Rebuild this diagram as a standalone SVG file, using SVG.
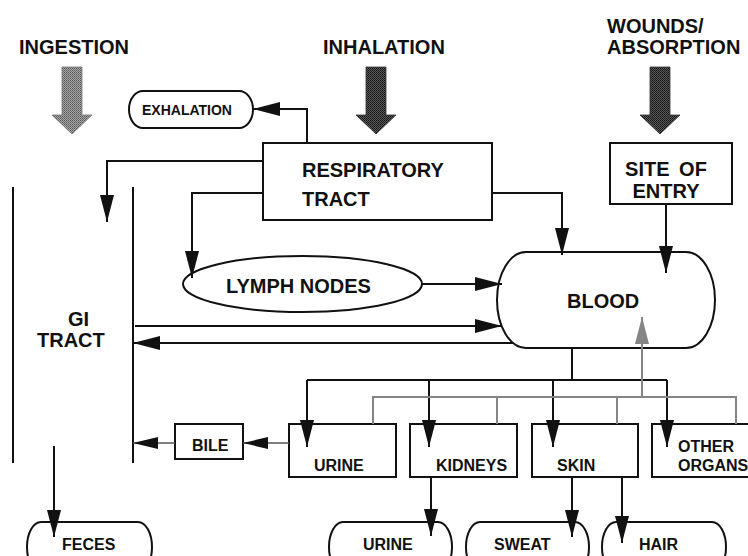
<svg xmlns="http://www.w3.org/2000/svg" width="748" height="556" viewBox="0 0 748 556">
<style>
text{font-family:"Liberation Sans",Arial,sans-serif;font-weight:bold;fill:#111}
.t20{font-size:20px}
.t16{font-size:16px}
.t14{font-size:14px}
.box{fill:#fff;stroke:#111;stroke-width:2}
.ln{fill:none;stroke:#111;stroke-width:2}
.gl{fill:none;stroke:#858585;stroke-width:2}
.th{fill:none;stroke:#555;stroke-width:1.3}
.c{text-anchor:middle}
</style>
<defs>
<marker id="ah" markerUnits="userSpaceOnUse" markerWidth="27" markerHeight="14" refX="27" refY="7" orient="auto"><path d="M0,0 L27,7 L0,14 z" fill="#111"/></marker>
<marker id="ahg" markerUnits="userSpaceOnUse" markerWidth="27" markerHeight="14" refX="27" refY="7" orient="auto"><path d="M0,0 L27,7 L0,14 z" fill="#858585"/></marker>
<marker id="ahs" markerUnits="userSpaceOnUse" markerWidth="25" markerHeight="12" refX="25" refY="6" orient="auto"><path d="M0,0 L25,6 L0,12 z" fill="#111"/></marker>
<pattern id="dlight" width="2" height="2" patternUnits="userSpaceOnUse"><rect width="2" height="2" fill="#a8a8a8"/><rect width="1" height="1" fill="#555"/><rect x="1" y="1" width="1" height="1" fill="#6e6e6e"/></pattern>
<pattern id="ddark" width="2" height="2" patternUnits="userSpaceOnUse"><rect width="2" height="2" fill="#5a5a5a"/><rect width="1" height="1" fill="#111"/><rect x="1" y="1" width="1" height="1" fill="#222"/></pattern>
</defs>

<g id="ingestion">
<text class="t20" x="19" y="54">INGESTION</text>
<polygon points="62,67 82,67 82,115 92,115 72,134 52,115 62,115" fill="url(#dlight)" stroke="#777" stroke-width="0.8"/>
</g>
<g id="inhalation">
<text class="t20" x="323" y="54">INHALATION</text>
<polygon points="366,67 386,67 386,115 396,115 376,134 356,115 366,115" fill="url(#ddark)" stroke="#333" stroke-width="0.8"/>
</g>
<g id="wounds">
<text class="t20" x="607" y="33">WOUNDS/</text>
<text class="t20" x="607" y="54">ABSORPTION</text>
<polygon points="650,67 670,67 670,115 680,115 660,134 640,115 650,115" fill="url(#ddark)" stroke="#333" stroke-width="0.8"/>
</g>

<g id="exhalation">
<path class="box" d="M143,91 H239 A14,18.5 0 0 1 239,128 H143 A14,18.5 0 0 1 143,91 Z"/>
<text class="t14" x="142" y="115">EXHALATION</text>
</g>
<g id="respiratory-tract">
<rect class="box" x="263" y="143" width="229" height="77"/>
<text class="t20" x="302" y="177">RESPIRATORY</text>
<text class="t20" x="302" y="206">TRACT</text>
</g>
<g id="site-of-entry">
<rect class="box" x="610" y="143" width="122" height="61"/>
<text class="t20 c" x="666" y="176" word-spacing="4">SITE OF</text>
<text class="t20 c" x="666" y="198">ENTRY</text>
</g>
<g id="gi-tract">
<path class="ln" d="M13,187 V463 M133,187 V463"/>
<text class="t20" x="68" y="326">GI</text>
<text class="t20" x="37" y="347">TRACT</text>
</g>
<g id="lymph-nodes">
<ellipse class="box" cx="302.5" cy="284" rx="119.5" ry="28"/>
<text class="t20" x="226" y="293">LYMPH NODES</text>
</g>
<g id="blood">
<path class="box" d="M526,252 H686 A29,48 0 0 1 686,348 H526 A29,48 0 0 1 526,252 Z"/>
<text class="t20" x="567" y="308">BLOOD</text>
</g>
<g id="bile">
<rect class="box" x="175" y="424" width="68" height="35"/>
<text class="t16" x="192" y="451">BILE</text>
</g>
<g id="urine-organ">
<rect class="box" x="289" y="424" width="107" height="53"/>
<text class="t16" x="314" y="471">URINE</text>
</g>
<g id="kidneys">
<rect class="box" x="410" y="424" width="107" height="53"/>
<text class="t16" x="436" y="471">KIDNEYS</text>
</g>
<g id="skin">
<rect class="box" x="532" y="424" width="106" height="53"/>
<text class="t16" x="557" y="471">SKIN</text>
</g>
<g id="other-organs">
<rect class="box" x="652" y="424" width="107" height="53"/>
<text class="t16" x="678" y="452">OTHER</text>
<text class="t16" x="678" y="471">ORGANS</text>
</g>
<g id="feces">
<path class="box" d="M41,522 H138 A14,25 0 0 1 138,572 H41 A14,25 0 0 1 41,522 Z"/>
<text class="t16" x="62" y="550">FECES</text>
</g>
<g id="urine-out">
<path class="box" d="M343,522 H438 A14,25 0 0 1 438,572 H343 A14,25 0 0 1 343,522 Z"/>
<text class="t16" x="363" y="550">URINE</text>
</g>
<g id="sweat">
<path class="box" d="M480,522 H575 A14,25 0 0 1 575,572 H480 A14,25 0 0 1 480,522 Z"/>
<text class="t16" x="494" y="550">SWEAT</text>
</g>
<g id="hair">
<path class="box" d="M616,522 H712 A14,25 0 0 1 712,572 H616 A14,25 0 0 1 616,522 Z"/>
<text class="t16" x="639" y="550">HAIR</text>
</g>

<g id="connectors">
<path class="ln" d="M307,143 V109 H253" marker-end="url(#ah)"/>
<path class="ln" d="M263,161 H107 V222" marker-end="url(#ah)"/>
<path class="ln" d="M263,193 H192 V278" marker-end="url(#ah)"/>
<path class="ln" d="M492,193 H562 V255" marker-end="url(#ah)"/>
<path class="ln" d="M666,204 V273" marker-end="url(#ah)"/>
<path class="ln" d="M422,284 H502" marker-end="url(#ah)"/>
<path class="ln" d="M135,326 H502" marker-end="url(#ah)"/>
<path class="ln" d="M513,343 H133" marker-end="url(#ah)"/>
<path class="ln" d="M572,348 V380 M307,380 H667"/>
<path class="ln" d="M307,380 V447" marker-end="url(#ah)"/>
<path class="ln" d="M429,380 V447" marker-end="url(#ah)"/>
<path class="ln" d="M553,380 V447" marker-end="url(#ah)"/>
<path class="ln" d="M667,380 V447" marker-end="url(#ah)"/>
<path class="gl" d="M373,424 V397 H736 V424 M497,424 V397 M617,424 V397"/>
<path class="gl" d="M642,397 V317" marker-end="url(#ahg)"/>
<path class="th" d="M289,443 H243" marker-end="url(#ahs)"/>
<path class="th" d="M175,443 H133" marker-end="url(#ahs)"/>
<path class="ln" d="M54,446 V537" marker-end="url(#ah)"/>
<path class="ln" d="M431,477 V536" marker-end="url(#ah)"/>
<path class="ln" d="M572,477 V537" marker-end="url(#ah)"/>
<path class="ln" d="M622,477 V543" marker-end="url(#ah)"/>
</g>
</svg>
